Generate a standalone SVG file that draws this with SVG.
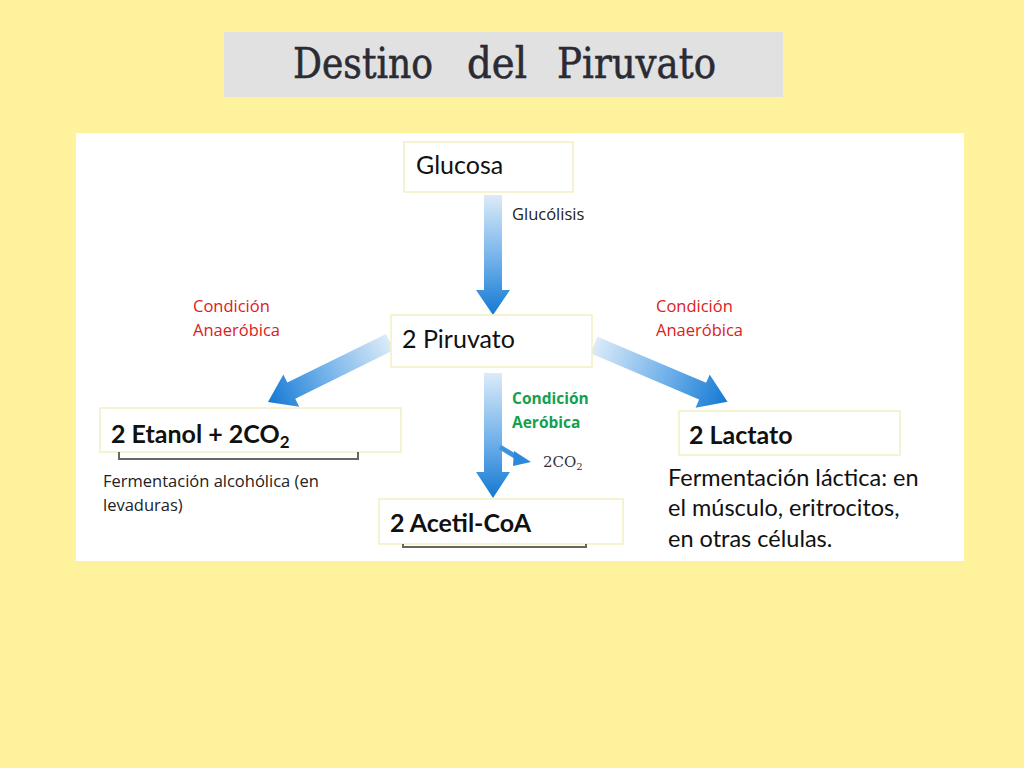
<svg xmlns="http://www.w3.org/2000/svg" width="1024" height="768" viewBox="0 0 1024 768">
<defs>
<linearGradient id="ag" x1="0" y1="0" x2="1" y2="0">
<stop offset="0" stop-color="#dcebf8"/>
<stop offset="0.55" stop-color="#6fb0ea"/>
<stop offset="1" stop-color="#1479d2"/>
</linearGradient>
<style>
.box{fill:#ffffff;stroke:#f2efc2;stroke-width:1.5}
.t{font-family:Lato,"Noto Sans",sans-serif;fill:#111}
.b{font-weight:bold}
.red{fill:#dc2020;font-size:16.5px;font-family:"Open Sans","Noto Sans",sans-serif}
.grn{fill:#15a04e;font-size:15.5px;font-weight:bold;font-family:"Open Sans","Noto Sans",sans-serif}
.small{font-size:16.5px;font-family:"Open Sans","Noto Sans",sans-serif;fill:#222}
.br{fill:none;stroke:#666;stroke-width:2}
</style>
</defs>
<rect width="1024" height="768" fill="#fff29c"/>
<g id="title">
<rect x="224" y="32" width="559" height="65" fill="#e1e1e1"/>
<g font-family="'DejaVu Serif','Liberation Serif',serif" font-size="43" fill="#2b2b33" stroke="#2b2b33" stroke-width="0.6">
<text x="293" y="78" textLength="140" lengthAdjust="spacingAndGlyphs">Destino</text>
<text x="467" y="78" textLength="60" lengthAdjust="spacingAndGlyphs">del</text>
<text x="557" y="78" textLength="159" lengthAdjust="spacingAndGlyphs">Piruvato</text>
</g>
</g>
<rect x="76" y="133" width="888" height="428" fill="#ffffff"/>
<g id="connectors">
<g transform="translate(493,195) rotate(90)"><polygon points="0,-9 95,-9 95,-17 120,0 95,17 95,9 0,9" fill="url(#ag)"/></g>
<g transform="translate(493,373) rotate(90)"><polygon points="0,-9 99,-9 99,-17 125,0 99,17 99,9 0,9" fill="url(#ag)"/></g>
<g transform="translate(390,342) rotate(153.8)"><polygon points="0,-9 110,-9 110,-18 136,0 110,18 110,9 0,9" fill="url(#ag)"/></g>
<g transform="translate(594,345) rotate(23)"><polygon points="0,-9 118,-9 118,-18 145,0 118,18 118,9 0,9" fill="url(#ag)"/></g>
<path d="M500,447 Q508,452 518,458" fill="none" stroke="#3d92dc" stroke-width="5"/>
<polygon points="514,451 531,462 513,466" fill="#2c88d8"/>
</g>
<g id="glucosa">
<rect class="box" x="404" y="142" width="169" height="50"/>
<text class="t" x="416" y="174" font-size="25">Glucosa</text>
</g>
<text class="small" x="512" y="220">Glucólisis</text>
<g id="cond-left">
<text class="red" x="193" y="312">Condición</text>
<text class="red" x="193" y="336">Anaeróbica</text>
</g>
<g id="cond-right">
<text class="red" x="656" y="312">Condición</text>
<text class="red" x="656" y="336">Anaeróbica</text>
</g>
<g id="piruvato">
<rect class="box" x="391" y="315" width="201" height="52"/>
<text class="t" x="402" y="348" font-size="25">2 Piruvato</text>
</g>
<g id="cond-aerobica">
<text class="grn" x="512" y="404">Condición</text>
<text class="grn" x="512" y="428">Aeróbica</text>
</g>
<text x="543" y="467" font-family="'DejaVu Serif','Liberation Serif',serif" font-size="15" fill="#333">2CO<tspan font-size="10" dy="3">2</tspan></text>
<g id="etanol">
<rect class="box" x="100" y="408" width="301" height="44"/>
<text class="t b" x="111" y="443" font-size="25">2 Etanol + 2CO<tspan font-size="17" dy="5">2</tspan></text>
<path class="br" d="M119,452 V459 H358 V452"/>
<text class="small" x="103" y="487">Fermentación alcohólica (en</text>
<text class="small" x="103" y="511">levaduras)</text>
</g>
<g id="lactato">
<rect class="box" x="679" y="411" width="221" height="44"/>
<text class="t b" x="689" y="444" font-size="25">2 Lactato</text>
<text class="t" x="668" y="486" font-size="23.5" fill="#222">Fermentación láctica: en</text>
<text class="t" x="668" y="516" font-size="23.5" fill="#222">el músculo, eritrocitos,</text>
<text class="t" x="668" y="547" font-size="23.5" fill="#222">en otras células.</text>
</g>
<g id="acetil">
<rect class="box" x="379" y="499" width="244" height="45"/>
<text class="t b" x="390" y="532" font-size="25">2 Acetil-CoA</text>
<path class="br" d="M403,544 V547 H586 V544" stroke-width="1.5"/>
</g>
</svg>
